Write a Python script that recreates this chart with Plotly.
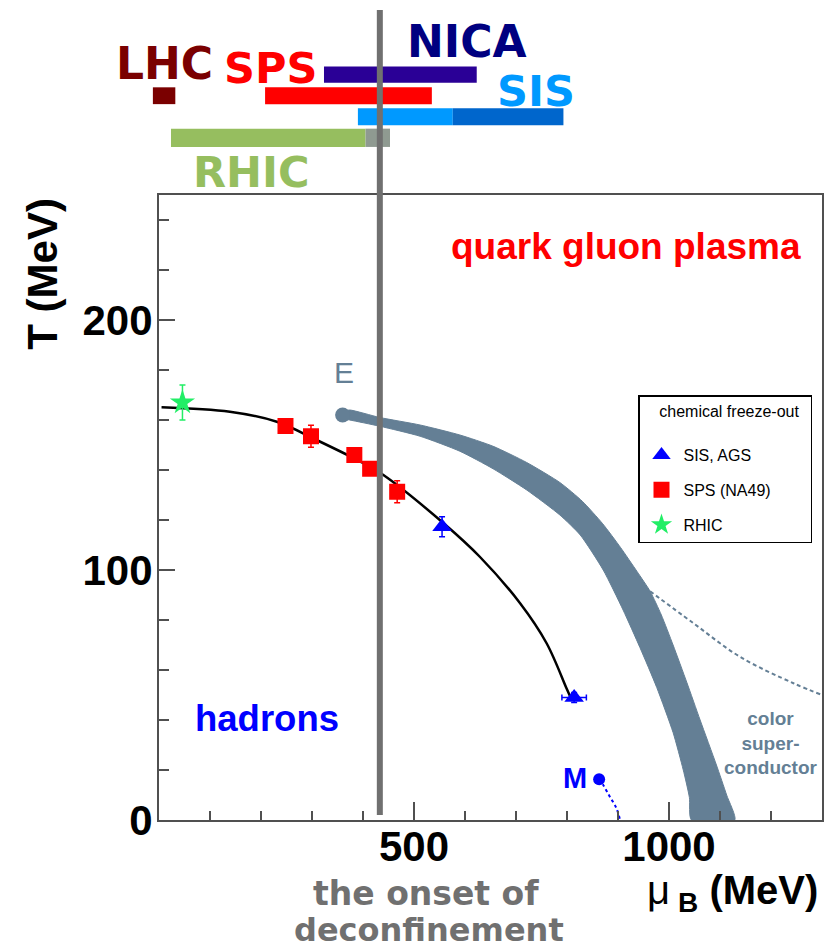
import plotly.graph_objects as go

W, H = 825, 949

# ---------------- data (MeV) ----------------
# chemical freeze-out curve
curve_mu = [5, 139, 231, 309, 401, 440, 558, 629, 708, 760, 799, 806]
curve_T = [165.1, 163.3, 159.3, 152.0, 142.7, 138.0, 118.7, 105.3, 86.7, 70.7, 52.7, 49.5]

# SIS, AGS points
sis_mu = [555, 814]
sis_T = [117.3, 49.0]
sis_err_T = [4.0, 2.0]
sis_err_mu = [0, 24]

# SPS (NA49) points
sps_mu = [248, 298, 383, 414, 467]
sps_T = [157.6, 153.5, 146.0, 140.5, 131.3]
sps_err_T = [2.0, 4.4, 2.0, 2.0, 4.4]

# RHIC point
rhic_mu = [46]
rhic_T = [167.0]
rhic_err_T = [7.0]

# phase-transition band (outer / inner edges)
band_outer_mu = [360, 374, 433, 512, 590, 655, 721, 786, 830, 870, 905, 937, 963, 985, 1008, 1035, 1061, 1093, 1113, 1129]
band_outer_T = [163.5, 164.0, 161.0, 158.0, 154.0, 149.5, 143.0, 135.0, 127.5, 118.5, 109.0, 99.5, 91.5, 82.0, 70.0, 55.0, 40.0, 22.0, 10.0, 0.0]
band_inner_mu = [360, 374, 433, 512, 590, 655, 721, 786, 826, 871, 910, 943, 976, 1008, 1028, 1040, 1044]
band_inner_T = [160.5, 160.0, 157.5, 153.5, 147.5, 140.5, 132.0, 122.0, 114.0, 100.0, 84.0, 69.0, 53.0, 35.0, 20.0, 9.0, 0.0]

# critical end point E
E_mu, E_T = [360], [162.0]
# nuclear matter point M and its dotted line
M_mu, M_T = [863], [16.3]
m_line_mu = [863, 871, 884, 897, 904]
m_line_T = [16.3, 14.0, 9.3, 4.7, 0.0]

# colour-superconductor boundary (dashed)
csc_mu = [963, 1048, 1139, 1244, 1300]
csc_T = [91.5, 78.7, 65.3, 54.7, 50.0]

# onset of deconfinement
ONSET_MU = 433

# accelerator ranges (top bars)
bar_rows = [0, 1, 1, 2, 2, 3, 3]
bar_start = [323.5, -12, 208, 390, 576, 23.5, 405]
bar_end = [623, 32, 535, 576, 793, 405, 453]
bar_colors = ["#2a0096", "#7a0000", "#ff0000", "#0099ff", "#0066cc", "#96be5f", "#8f9a91"]
bar_widths = [0.77, 0.8, 0.8, 0.81, 0.81, 0.87, 0.87]

X_RANGE = [0, 1300]
Y_RANGE = [0, 250]

# ---------------- layout geometry ----------------
PL, PR, PT, PB = 159, 822, 195, 820  # plot area in pixels


def px(x):
    return x / W


def py(y):
    return 1 - y / H


scale = (PR - PL) / (X_RANGE[1] - X_RANGE[0])
x2_range = [X_RANGE[0] - PL / scale, X_RANGE[1] + (W - PR) / scale]
row_c0, row_step, top_h = 74.7, 21.03, 190
y2_range = [(top_h - row_c0) / row_step, (0 - row_c0) / row_step]

BAND = "#647f95"
fig = go.Figure()

# band
fig.add_trace(go.Scatter(
    x=band_outer_mu + band_inner_mu[::-1], y=band_outer_T + band_inner_T[::-1],
    fill="toself", fillcolor=BAND, line=dict(color=BAND, width=1, shape="spline", smoothing=0.6),
    mode="lines", showlegend=False, hoverinfo="skip"))
fig.add_trace(go.Scatter(x=E_mu, y=E_T, mode="markers",
                         marker=dict(color=BAND, size=15), showlegend=False))
fig.add_trace(go.Scatter(x=csc_mu, y=csc_T, mode="lines", line=dict(color=BAND, width=2, dash="4px,3px"),
                         showlegend=False, line_shape="spline"))
fig.add_trace(go.Scatter(x=m_line_mu, y=m_line_T, mode="lines", line=dict(color="#0000ff", width=2, dash="dot"),
                         showlegend=False, line_shape="spline"))
fig.add_trace(go.Scatter(x=M_mu, y=M_T, mode="markers", marker=dict(color="#0000ff", size=12), showlegend=False))

# freeze-out curve
fig.add_trace(go.Scatter(x=curve_mu, y=curve_T, mode="lines", line=dict(color="black", width=2.5),
                         line_shape="spline", showlegend=False))

# data points
fig.add_trace(go.Scatter(
    x=sis_mu, y=sis_T, mode="markers", name="SIS, AGS", legendgroup="a", legendrank=1,
    marker=dict(symbol="triangle-up", color="#0000ff", size=17),
    error_y=dict(type="data", array=sis_err_T, color="#0000ff", thickness=1.5, width=3),
    error_x=dict(type="data", array=sis_err_mu, color="#0000ff", thickness=1.5, width=3)))
fig.add_trace(go.Scatter(
    x=sps_mu, y=sps_T, mode="markers", name="SPS (NA49)", legendgroup="b", legendrank=2,
    marker=dict(symbol="square", color="#ff0000", size=16),
    error_y=dict(type="data", array=sps_err_T, color="#ff0000", thickness=1.5, width=3)))
fig.add_trace(go.Scatter(
    x=rhic_mu, y=rhic_T, mode="markers", name="RHIC", legendgroup="c", legendrank=3,
    marker=dict(symbol="star", color="#22ee66", size=19),
    error_y=dict(type="data", array=rhic_err_T, color="#22ee66", thickness=1.5, width=3)))

# top bars
fig.add_trace(go.Bar(
    y=bar_rows, x=[e - s for s, e in zip(bar_start, bar_end)], base=bar_start,
    orientation="h", marker=dict(color=bar_colors, line=dict(width=0)), width=bar_widths,
    xaxis="x2", yaxis="y2", showlegend=False, hoverinfo="skip"))

axis_col = "#505050"
tickfont = dict(family="Liberation Sans", size=42, color="black", weight="bold")

fig.update_layout(
    template="none",
    width=W, height=H, autosize=False,
    margin=dict(l=0, r=0, t=0, b=0, pad=0, autoexpand=False),
    paper_bgcolor="white", plot_bgcolor="white",
    barmode="overlay",
    xaxis=dict(domain=[px(PL), px(PR)], range=X_RANGE, anchor="y", automargin=False,
               showline=True, linecolor=axis_col, linewidth=2, mirror=True,
               showgrid=False, zeroline=False,
               ticks="inside", ticklen=18, tickwidth=1.5, tickcolor=axis_col,
               tickvals=[500, 1000], ticktext=["500", "1000"], tickfont=tickfont,
               ticklabelstandoff=-11,
               minor=dict(dtick=100, tick0=0, ticks="inside", ticklen=9, tickwidth=1.5, tickcolor=axis_col,
                          showgrid=False)),
    yaxis=dict(domain=[py(PB), py(PT)], range=Y_RANGE, anchor="x", automargin=False,
               showline=True, linecolor=axis_col, linewidth=2, mirror=True,
               showgrid=False, zeroline=False,
               ticks="inside", ticklen=16, tickwidth=1.5, tickcolor=axis_col,
               tickvals=[0, 100, 200], ticktext=["0", "100", "200"], tickfont=tickfont,
               ticklabelstandoff=-4, ticklabelshift=0,
               minor=dict(dtick=20, tick0=0, ticks="inside", ticklen=10, tickwidth=1.5, tickcolor=axis_col,
                          showgrid=False)),
    xaxis2=dict(domain=[0, 1], range=x2_range, anchor="y2", visible=False, fixedrange=True, automargin=False),
    yaxis2=dict(domain=[py(top_h), 1], range=y2_range, anchor="x2", visible=False, fixedrange=True,
                automargin=False),
    legend=dict(x=px(638), y=py(395), xanchor="left", yanchor="top",
                bgcolor="white", bordercolor="black", borderwidth=1.5,
                font=dict(family="Liberation Sans", size=16, color="black"),
                title=dict(text="\u00a0\u00a0\u00a0\u00a0chemical freeze-out\u00a0\u00a0<br>\u00a0",
                           side="top",
                           font=dict(family="Liberation Sans", size=16, color="black")),
                tracegroupgap=11, itemwidth=34, traceorder="grouped"),
    shapes=[dict(type="line", xref="x", yref="paper", x0=ONSET_MU, x1=ONSET_MU,
                 y0=py(815), y1=py(10), line=dict(color="#707070", width=6), layer="above")],
)

ann = []


def add_text(text, x, y_base, size, color, family="Liberation Sans", bold=True, xanchor="center", angle=0):
    ann.append(dict(text=text, x=px(x), y=py(y_base - 0.35 * size), xref="paper", yref="paper",
                    xanchor=xanchor, yanchor="middle", showarrow=False, textangle=angle,
                    font=dict(family=family, size=size, color=color, weight="bold" if bold else "normal")))


# accelerator labels
add_text("LHC", 164, 79, 44, "#7a0000", family="DejaVu Sans")
add_text("SPS", 270, 83.3, 43, "#ff0000", family="DejaVu Sans")
add_text("NICA", 466.7, 57.3, 44, "#000080", family="DejaVu Sans")
add_text("SIS", 535.7, 106, 43, "#0099ff", family="DejaVu Sans")
add_text("RHIC", 251.7, 186.7, 43, "#96be5f", family="DejaVu Sans")

# in-plot labels
add_text("quark gluon plasma", 626, 259.3, 37, "#ff0000")
add_text("hadrons", 267, 731.7, 36.5, "#0000ff")
add_text("E", 344, 382.7, 30, BAND, bold=False)
add_text("M", 575, 788.3, 29, "#0000ff")
ann.append(dict(text="color<br>super-<br>conductor", x=px(770), y=py(743), xref="paper", yref="paper",
                xanchor="center", yanchor="middle", showarrow=False,
                font=dict(family="Liberation Sans", size=19, color=BAND, weight="bold")))

# bottom labels
add_text("the onset of", 426, 905.5, 33, "#707070", family="DejaVu Sans")
add_text("deconfinement", 429, 941, 32, "#707070", family="DejaVu Sans")
add_text("<span style='font-weight:normal'>μ</span>\u2009<sub>B</sub> (MeV)", 820, 906.7, 40, "black",
         xanchor="right")

# y-axis title
ann.append(dict(text="T (MeV)", x=px(41.7), y=py(274), xref="paper", yref="paper",
                xanchor="center", yanchor="middle", showarrow=False, textangle=-90,
                font=dict(family="Liberation Sans", size=42, color="black", weight="bold")))

fig.update_layout(annotations=ann)
fig.write_html("out.html")
